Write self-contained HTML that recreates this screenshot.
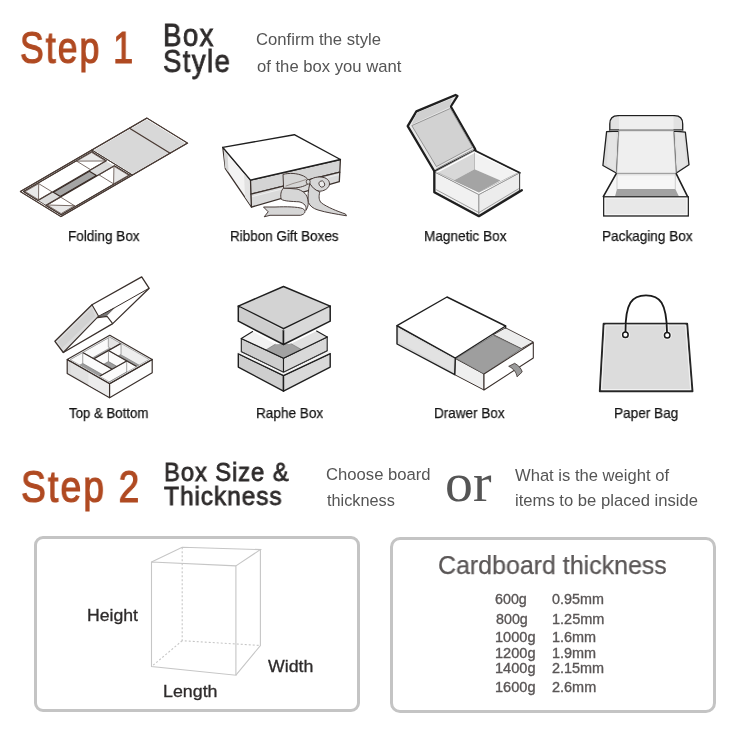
<!DOCTYPE html>
<html><head><meta charset="utf-8"><style>
html,body{margin:0;padding:0;background:#fff;}
body{width:750px;height:730px;position:relative;overflow:hidden;font-family:"Liberation Sans", sans-serif;}
.t{position:absolute;white-space:nowrap;line-height:1;transform-origin:0 0;will-change:transform;}
.box{position:absolute;border:3px solid #c4c4c4;box-sizing:border-box;}
svg{position:absolute;left:0;top:0;}
</style></head><body>
<div class="box" style="left:34px;top:536px;width:326px;height:176px;border-radius:9px;"></div>
<div class="box" style="left:390px;top:537px;width:326px;height:176px;border-radius:10px;"></div>
<svg width="750" height="730" viewBox="0 0 750 730">
<polygon points="20.40,191.60 147.00,118.10 187.60,143.10 61.00,216.60" fill="#fff" stroke="#4a3c36" stroke-width="1.1" stroke-linejoin="round" />
<polygon points="93.83,150.18 146.75,119.46 185.32,143.21 132.40,173.93" fill="#d8d8d8" stroke="none" stroke-width="1" stroke-linejoin="round" />
<polyline points="91.93,150.07 132.53,175.07" fill="none" stroke="#3a302c" stroke-width="1" stroke-linejoin="round" stroke-linecap="round" />
<polyline points="129.53,128.24 170.13,153.24" fill="none" stroke="#4a3a33" stroke-width="1.3" stroke-linejoin="round" stroke-linecap="round" />
<polygon points="38.77,199.88 105.86,160.92 113.98,165.92 46.89,204.88" fill="#dcdcdc" stroke="none" stroke-width="1" stroke-linejoin="round" />
<polygon points="53.30,192.17 89.38,171.22 96.41,175.55 60.32,196.49" fill="#a5a5a5" stroke="#3a2d28" stroke-width="1.2" stroke-linejoin="round" />
<polygon points="23.51,191.54 91.87,151.85 106.32,160.75 37.96,200.44" fill="#fff" stroke="#3a2d28" stroke-width="1.2" stroke-linejoin="round" />
<polygon points="46.00,205.39 114.36,165.70 129.55,175.05 61.18,214.74" fill="#fff" stroke="#3a2d28" stroke-width="1.2" stroke-linejoin="round" />
<polygon points="23.51,191.54 93.39,150.97 131.07,174.17 61.18,214.74" fill="none" stroke="#4a3c36" stroke-width="0.9" stroke-linejoin="round" />
<polygon points="25.16,191.50 38.71,183.64 38.56,199.75" fill="#e8e8e8" stroke="none" stroke-width="1" stroke-linejoin="round" />
<polygon points="25.16,191.50 38.71,183.64 52.11,191.89 38.56,199.75" fill="none" stroke="#5a4a44" stroke-width="0.8" stroke-linejoin="round" />
<polyline points="38.71,183.64 38.56,199.75" fill="none" stroke="#5a4a44" stroke-width="0.8" stroke-linejoin="round" stroke-linecap="round" />
<polygon points="76.66,161.12 91.60,152.45 105.49,161.00" fill="#e8e8e8" stroke="none" stroke-width="1" stroke-linejoin="round" />
<polygon points="76.66,161.12 91.60,152.45 105.49,161.00 90.55,169.67" fill="none" stroke="#5a4a44" stroke-width="0.8" stroke-linejoin="round" />
<polyline points="76.66,161.12 105.49,161.00" fill="none" stroke="#5a4a44" stroke-width="0.8" stroke-linejoin="round" stroke-linecap="round" />
<polygon points="47.09,205.00 74.64,205.77 61.10,213.63" fill="#e8e8e8" stroke="none" stroke-width="1" stroke-linejoin="round" />
<polygon points="47.09,205.00 60.64,197.14 74.64,205.77 61.10,213.63" fill="none" stroke="#5a4a44" stroke-width="0.8" stroke-linejoin="round" />
<polyline points="47.09,205.00 74.64,205.77" fill="none" stroke="#5a4a44" stroke-width="0.8" stroke-linejoin="round" stroke-linecap="round" />
<polygon points="113.93,166.20 128.55,175.20 113.61,183.87" fill="#e8e8e8" stroke="none" stroke-width="1" stroke-linejoin="round" />
<polygon points="98.99,174.87 113.93,166.20 128.55,175.20 113.61,183.87" fill="none" stroke="#5a4a44" stroke-width="0.8" stroke-linejoin="round" />
<polyline points="113.93,166.20 113.61,183.87" fill="none" stroke="#5a4a44" stroke-width="0.8" stroke-linejoin="round" stroke-linecap="round" />
<polygon points="20.40,191.60 147.00,118.10 187.60,143.10 61.00,216.60" fill="none" stroke="#4a3c36" stroke-width="1.1" stroke-linejoin="round" />
<polygon points="222.80,147.40 250.50,180.10 251.60,207.10 225.40,168.60" fill="#f3f3f3" stroke="#3a302c" stroke-width="1.3" stroke-linejoin="round" />
<polygon points="223.60,149.50 227.60,154.20 228.60,172.60 225.20,167.80" fill="#d6d6d6" stroke="none" stroke-width="1" stroke-linejoin="round" />
<polygon points="244.00,173.00 250.00,180.50 250.80,205.50 245.00,197.00" fill="#e2e2e2" stroke="none" stroke-width="1" stroke-linejoin="round" />
<polygon points="250.50,180.10 340.40,159.50 339.80,172.10 251.00,194.10" fill="#d4d4d4" stroke="#3a302c" stroke-width="1.3" stroke-linejoin="round" />
<polygon points="251.00,194.10 339.80,172.10 339.30,181.70 251.40,207.10" fill="#dadada" stroke="#3a302c" stroke-width="1.3" stroke-linejoin="round" />
<polyline points="252.50,196.50 338.50,174.60" fill="none" stroke="#f2f2f2" stroke-width="0.9" stroke-linejoin="round" stroke-linecap="round" />
<polygon points="222.80,147.40 294.30,134.70 340.40,159.50 250.50,180.10" fill="#fff" stroke="#1f1f1f" stroke-width="1.4" stroke-linejoin="round" />
<path d="M263.5,207 L275,207 C287,206.5 297,206.8 302.5,208.5 C306.5,210.5 305.5,214 300.5,215.3 L270,215.3 L264.2,216.8 L268.2,211.8 Z" fill="#d6d6d6" stroke="#3f332f" stroke-width="0.95" stroke-linejoin="round"/>
<path d="M283.6,188 C280.8,190.5 280.2,195.5 281.2,199.2 C284,201.3 292,201.4 299,201.8 C304.5,203 307,206.5 305.8,210.5 C308.5,207 308.8,202 307.5,198 C306,193 302,190.5 297,189 Z" fill="#d6d6d6" stroke="#3f332f" stroke-width="0.95" stroke-linejoin="round"/>
<path d="M283,174.4 C289,172.8 297,173 303.5,176 C306.5,177.5 309,180 309.5,182.5 C306,186 300,187.8 293,188 L283.6,188.2 Z" fill="#d6d6d6" stroke="#3f332f" stroke-width="0.95" stroke-linejoin="round"/>
<polyline points="286.00,186.00 293.00,183.50 300.00,181.50 306.00,179.50" fill="none" stroke="#6a5c56" stroke-width="0.6" stroke-linejoin="round" stroke-linecap="round" />
<path d="M309.8,183.5 C308.2,190 307.6,197 308.4,202.4 C310,206 313,208.5 318,210 C326,212.5 336,214 346.5,215.8 L345.5,214 C337,211.2 327,207 321.5,203 C318.8,200.5 318.6,196.5 319.8,192 C316,190 312.5,187 309.8,183.5 Z" fill="#d6d6d6" stroke="#3f332f" stroke-width="0.95" stroke-linejoin="round"/>
<path d="M308.5,181 C312.5,177.5 318,176.3 323,177.3 C328,178.3 330.2,182 329.3,185.2 C328,189 323.5,191.2 319.6,191.2 C315.5,190.8 312.5,187.5 310.5,184.5 Z" fill="#d6d6d6" stroke="#3f332f" stroke-width="0.95" stroke-linejoin="round"/>
<ellipse cx="321.8" cy="184" rx="2.8" ry="3.2" transform="rotate(-30 321.8 184)" fill="#ebebeb" stroke="#3f332f" stroke-width="0.8"/>
<ellipse cx="308.2" cy="181.8" rx="2" ry="2.4" fill="#d6d6d6" stroke="#3f332f" stroke-width="0.8"/>
<polygon points="455.50,95.00 457.50,96.00 450.80,106.50 474.80,148.50 475.50,150.50 434.50,171.50 407.70,126.20 416.40,111.40" fill="#e8e8e8" stroke="#1f1f1f" stroke-width="2.3" stroke-linejoin="round" />
<polygon points="416.80,112.80 452.00,98.50 449.80,107.00 411.80,124.60" fill="#d0d0d0" stroke="none" stroke-width="1" stroke-linejoin="round" />
<polygon points="411.80,125.60 450.40,108.40 472.60,147.20 436.40,166.60" fill="#d2d2d2" stroke="#777" stroke-width="0.7" stroke-linejoin="round" />
<polyline points="436.60,168.80 473.40,149.40" fill="none" stroke="#777" stroke-width="0.7" stroke-linejoin="round" stroke-linecap="round" />
<polygon points="434.70,172.00 478.90,194.50 478.90,215.30 434.70,191.90" fill="#f1f1f1" stroke="#888" stroke-width="0.8" stroke-linejoin="round" />
<polygon points="478.90,194.50 519.60,172.80 519.60,190.10 478.90,215.30" fill="#ececec" stroke="#888" stroke-width="0.8" stroke-linejoin="round" />
<polygon points="434.70,172.00 474.50,150.80 519.60,172.80 478.90,194.50" fill="#fff" stroke="#888" stroke-width="0.8" stroke-linejoin="round" />
<polygon points="437.80,172.60 474.50,153.00 474.50,169.30 453.70,180.60" fill="#d8d8d8" stroke="none" stroke-width="1" stroke-linejoin="round" />
<polygon points="474.50,153.00 516.80,173.40 500.50,180.60 474.50,169.30" fill="#f2f2f2" stroke="none" stroke-width="1" stroke-linejoin="round" />
<polygon points="453.70,180.60 474.50,169.30 500.50,180.60 478.90,192.20" fill="#a4a4a4" stroke="none" stroke-width="1" stroke-linejoin="round" />
<polyline points="474.50,153.00 474.50,169.30" fill="none" stroke="#999" stroke-width="0.6" stroke-linejoin="round" stroke-linecap="round" />
<polyline points="437.80,172.60 478.90,192.20 516.80,173.40" fill="none" stroke="#999" stroke-width="0.6" stroke-linejoin="round" stroke-linecap="round" />
<polyline points="474.50,150.30 519.80,172.80" fill="none" stroke="#1f1f1f" stroke-width="1.8" stroke-linejoin="round" stroke-linecap="round" />
<polyline points="519.60,172.80 519.60,190.50" fill="none" stroke="#444" stroke-width="1.0" stroke-linejoin="round" stroke-linecap="round" />
<polyline points="436.50,189.80 478.90,212.60 518.50,188.80" fill="none" stroke="#8a8a8a" stroke-width="0.8" stroke-linejoin="round" stroke-linecap="round" />
<polyline points="434.30,171.50 434.30,192.20 478.90,216.20 521.80,190.20" fill="none" stroke="#1f1f1f" stroke-width="2.3" stroke-linejoin="round" stroke-linecap="round" />
<path d="M609.8,130 L609.8,124 C609.8,118.5 612.5,115.7 618,115.7 L674.5,115.7 C680,115.7 682.7,118.5 682.7,124 L682.7,130 Z" fill="#e2e2e2" stroke="#1f1f1f" stroke-width="1.3"/>
<rect x="619" y="116.6" width="54.5" height="13" fill="#efefef"/>
<polygon points="606.60,131.60 618.90,131.00 616.70,173.30 602.90,165.50" fill="#dcdcdc" stroke="#1f1f1f" stroke-width="1.3" stroke-linejoin="round" />
<polygon points="685.40,132.20 673.50,131.00 676.00,173.30 689.00,164.80" fill="#dcdcdc" stroke="#1f1f1f" stroke-width="1.3" stroke-linejoin="round" />
<polygon points="608.50,133.00 616.50,132.50 615.30,170.50 607.00,165.00" fill="#e4e4e4" stroke="none" stroke-width="1" stroke-linejoin="round" />
<polygon points="683.50,133.00 675.80,132.50 677.20,170.50 686.50,165.00" fill="#e4e4e4" stroke="none" stroke-width="1" stroke-linejoin="round" />
<polygon points="618.90,130.80 673.50,130.80 676.00,173.50 616.70,173.50" fill="#efefef" stroke="#a8a8a8" stroke-width="0.8" stroke-linejoin="round" />
<polyline points="610.50,130.30 682.00,130.30" fill="none" stroke="#999" stroke-width="1.0" stroke-linejoin="round" stroke-linecap="round" />
<polygon points="603.30,196.60 616.10,174.30 676.30,174.30 687.60,196.60" fill="#f6f6f6" stroke="none" stroke-width="1" stroke-linejoin="round" />
<polygon points="617.00,189.10 675.30,189.10 679.00,196.60 615.00,196.60" fill="#a2a2a2" stroke="none" stroke-width="1" stroke-linejoin="round" />
<polyline points="617.00,174.50 617.00,189.10" fill="none" stroke="#bbb" stroke-width="0.7" stroke-linejoin="round" stroke-linecap="round" />
<polyline points="675.30,174.50 675.30,189.10" fill="none" stroke="#bbb" stroke-width="0.7" stroke-linejoin="round" stroke-linecap="round" />
<polyline points="616.10,173.30 676.30,173.30" fill="none" stroke="#999" stroke-width="0.9" stroke-linejoin="round" stroke-linecap="round" />
<polyline points="616.10,174.80 676.30,174.80" fill="none" stroke="#ccc" stroke-width="0.7" stroke-linejoin="round" stroke-linecap="round" />
<polyline points="603.30,196.60 616.10,173.80" fill="none" stroke="#1f1f1f" stroke-width="1.6" stroke-linejoin="round" stroke-linecap="round" />
<polyline points="687.60,196.60 676.30,173.80" fill="none" stroke="#1f1f1f" stroke-width="1.6" stroke-linejoin="round" stroke-linecap="round" />
<rect x="603.7" y="196.8" width="84.6" height="19.2" fill="#e8e8e8" stroke="#1f1f1f" stroke-width="1.3"/>
<rect x="605.2" y="198.3" width="81.6" height="16.2" fill="none" stroke="#f6f6f6" stroke-width="1"/>
<polygon points="54.90,341.30 92.00,304.70 141.70,276.90 149.20,288.30 112.70,323.60 63.30,352.50" fill="#fff" stroke="none" stroke-width="1" stroke-linejoin="round" />
<polygon points="54.90,341.30 92.00,304.70 98.60,316.20 63.30,352.50" fill="#dcdcdc" stroke="none" stroke-width="1" stroke-linejoin="round" />
<polygon points="58.00,341.50 92.00,308.00 95.00,316.00 62.00,348.00" fill="#d2d2d2" stroke="none" stroke-width="1" stroke-linejoin="round" />
<polygon points="97.50,317.60 114.50,307.80 107.10,315.20" fill="#7a7a7a" stroke="#3a302c" stroke-width="0.5" stroke-linejoin="round" />
<polyline points="98.60,316.20 114.50,307.80 148.40,288.60" fill="none" stroke="#3a302c" stroke-width="1.0" stroke-linejoin="round" stroke-linecap="round" />
<polyline points="92.00,304.70 98.60,316.20 63.30,352.50" fill="none" stroke="#3a302c" stroke-width="1.1" stroke-linejoin="round" stroke-linecap="round" />
<polyline points="97.50,317.60 107.10,316.40 112.70,323.60" fill="none" stroke="#3a302c" stroke-width="1.1" stroke-linejoin="round" stroke-linecap="round" />
<polygon points="54.90,341.30 92.00,304.70 141.70,276.90 149.20,288.30 112.70,323.60 63.30,352.50" fill="none" stroke="#3a302c" stroke-width="1.3" stroke-linejoin="round" />
<polygon points="67.20,370.60 109.80,346.30 152.20,370.40 109.60,394.70" fill="#9c9c9c" stroke="none" stroke-width="1" stroke-linejoin="round" />
<polygon points="68.68,360.44 111.28,336.14 111.28,347.14 68.68,371.44" fill="#fafafa" stroke="#777" stroke-width="0.6" stroke-linejoin="round" />
<polygon points="108.31,336.15 150.71,360.25 150.71,371.25 108.31,347.15" fill="#e4e4e4" stroke="#777" stroke-width="0.6" stroke-linejoin="round" />
<polygon points="120.39,343.02 150.71,360.25 150.71,371.25 120.39,354.02" fill="#eeeeee" stroke="none" stroke-width="1" stroke-linejoin="round" />
<polygon points="93.98,358.81 121.03,343.38 121.03,354.38 93.98,369.81" fill="#fbfbfb" stroke="#666" stroke-width="0.6" stroke-linejoin="round" />
<polyline points="93.98,358.81 121.03,343.38" fill="none" stroke="#3a302c" stroke-width="1.2" stroke-linejoin="round" stroke-linecap="round" />
<polygon points="108.46,350.55 136.66,366.58 136.66,377.58 108.46,361.55" fill="#fbfbfb" stroke="#666" stroke-width="0.6" stroke-linejoin="round" />
<polyline points="108.46,350.55 136.66,366.58" fill="none" stroke="#3a302c" stroke-width="1.2" stroke-linejoin="round" stroke-linecap="round" />
<polygon points="82.74,352.42 112.21,369.17 112.21,380.17 82.74,363.42" fill="#fbfbfb" stroke="#666" stroke-width="0.6" stroke-linejoin="round" />
<polyline points="82.74,352.42 112.21,369.17" fill="none" stroke="#3a302c" stroke-width="1.2" stroke-linejoin="round" stroke-linecap="round" />
<polygon points="99.64,376.34 126.69,360.91 126.69,371.91 99.64,387.34" fill="#fbfbfb" stroke="#666" stroke-width="0.6" stroke-linejoin="round" />
<polyline points="99.64,376.34 126.69,360.91" fill="none" stroke="#3a302c" stroke-width="1.2" stroke-linejoin="round" stroke-linecap="round" />
<path d="M 67.20,359.60 109.80,335.30 152.20,359.40 109.60,383.70Z M 70.17,359.59 109.61,382.01 149.22,359.41 109.79,336.99Z" fill="#fff" fill-rule="evenodd" stroke="none"/>
<polyline points="109.61,382.01 70.17,359.59 109.79,336.99 149.22,359.41 109.61,382.01" fill="none" stroke="#888" stroke-width="0.6" stroke-linejoin="round" stroke-linecap="round" />
<polygon points="67.20,359.60 109.60,383.70 109.60,397.70 67.20,373.60" fill="#dcdcdc" stroke="#3a302c" stroke-width="1.2" stroke-linejoin="round" />
<polygon points="70.60,362.06 110.45,384.71 110.45,396.21 70.60,373.56" fill="#e2e2e2" stroke="none" stroke-width="1" stroke-linejoin="round" />
<polygon points="88.40,372.65 108.75,384.22 108.75,396.22 88.40,384.65" fill="#ececec" stroke="none" stroke-width="1" stroke-linejoin="round" />
<polygon points="109.60,383.70 152.20,359.40 152.20,372.70 109.60,397.70" fill="#fdfdfd" stroke="#3a302c" stroke-width="1.2" stroke-linejoin="round" />
<polygon points="67.20,359.60 109.80,335.30 152.20,359.40 109.60,383.70" fill="none" stroke="#3a302c" stroke-width="1.2" stroke-linejoin="round" />
<polygon points="238.30,353.60 283.50,375.60 283.50,391.20 238.30,367.10" fill="#cecece" stroke="#1f1f1f" stroke-width="1.4" stroke-linejoin="round" />
<polygon points="283.50,375.60 330.20,353.60 330.20,367.10 283.50,391.20" fill="#d9d9d9" stroke="#1f1f1f" stroke-width="1.4" stroke-linejoin="round" />
<polygon points="241.30,338.50 283.50,358.30 283.50,372.30 241.30,351.80" fill="#cecece" stroke="#1f1f1f" stroke-width="1.1" stroke-linejoin="round" />
<polygon points="283.50,358.30 327.20,337.00 327.20,350.80 283.50,372.30" fill="#d9d9d9" stroke="#1f1f1f" stroke-width="1.1" stroke-linejoin="round" />
<polygon points="241.30,338.50 252.60,331.50 275.20,344.30 266.30,349.70" fill="#f2f2f2" stroke="none" stroke-width="1" stroke-linejoin="round" />
<polygon points="291.00,343.70 316.60,331.00 327.20,337.00 301.70,349.70" fill="#e0e0e0" stroke="none" stroke-width="1" stroke-linejoin="round" />
<polygon points="266.30,349.70 275.20,344.30 291.00,343.70 301.70,349.70 283.50,358.10" fill="#a2a2a2" stroke="none" stroke-width="1" stroke-linejoin="round" />
<polyline points="266.30,349.70 275.20,344.30" fill="none" stroke="#666" stroke-width="0.6" stroke-linejoin="round" stroke-linecap="round" />
<polyline points="291.00,343.70 301.70,349.70" fill="none" stroke="#666" stroke-width="0.6" stroke-linejoin="round" stroke-linecap="round" />
<polyline points="241.30,338.50 252.60,331.50" fill="none" stroke="#1f1f1f" stroke-width="1.1" stroke-linejoin="round" stroke-linecap="round" />
<polyline points="316.60,331.00 327.20,337.00" fill="none" stroke="#1f1f1f" stroke-width="1.1" stroke-linejoin="round" stroke-linecap="round" />
<polyline points="241.30,338.50 283.50,358.30 327.20,337.00" fill="none" stroke="#1f1f1f" stroke-width="1.1" stroke-linejoin="round" stroke-linecap="round" />
<polyline points="238.30,352.50 283.50,374.00 330.20,352.20" fill="none" stroke="#f4f4f4" stroke-width="2.2" stroke-linejoin="round" stroke-linecap="round" />
<polyline points="238.30,353.70 283.50,375.60 330.20,353.60" fill="none" stroke="#1f1f1f" stroke-width="1.1" stroke-linejoin="round" stroke-linecap="round" />
<polyline points="241.30,351.60 283.50,372.40 327.20,350.90" fill="none" stroke="#444" stroke-width="0.8" stroke-linejoin="round" stroke-linecap="round" />
<polygon points="238.30,306.10 283.50,328.70 283.50,344.50 238.30,321.20" fill="#cecece" stroke="#1f1f1f" stroke-width="1.5" stroke-linejoin="round" />
<polygon points="283.50,328.70 330.20,306.10 330.20,321.20 283.50,344.50" fill="#d9d9d9" stroke="#1f1f1f" stroke-width="1.5" stroke-linejoin="round" />
<polygon points="238.30,306.10 283.50,286.50 330.20,306.10 283.50,328.70" fill="#d3d3d3" stroke="#1f1f1f" stroke-width="1.5" stroke-linejoin="round" />
<polyline points="240.00,307.80 283.50,329.90 328.50,307.80" fill="none" stroke="#eeeeee" stroke-width="0.7" stroke-linejoin="round" stroke-linecap="round" />
<polygon points="455.30,358.50 484.00,374.00 484.00,390.00 454.70,374.70" fill="#efefef" stroke="#3a302c" stroke-width="1" stroke-linejoin="round" />
<polygon points="493.30,334.70 505.50,327.80 533.30,342.00 521.30,348.70" fill="#ececec" stroke="#3a302c" stroke-width="0.9" stroke-linejoin="round" />
<polygon points="456.00,358.30 493.30,335.30 521.30,348.70 484.00,374.00" fill="#9e9e9e" stroke="#555" stroke-width="0.6" stroke-linejoin="round" />
<polygon points="484.00,374.00 533.30,342.50 533.30,358.00 484.00,390.00" fill="#fff" stroke="#3a302c" stroke-width="1.1" stroke-linejoin="round" />
<path d="M508.7,366.3 L514.7,363.3 C518.5,365.5 521.5,368.5 522.2,372 L517,376.8 C516.5,372.5 513.5,368.5 508.7,366.3 Z" fill="#9a9a9a" stroke="#3a302c" stroke-width="0.8"/>
<polygon points="397.00,325.60 455.30,358.00 454.70,374.70 397.00,344.00" fill="#d8d8d8" stroke="#1f1f1f" stroke-width="1.4" stroke-linejoin="round" />
<polygon points="399.00,329.00 453.50,359.00 453.20,372.00 399.00,342.00" fill="#e2e2e2" stroke="none" stroke-width="1" stroke-linejoin="round" />
<polygon points="397.00,325.60 447.00,297.00 505.60,326.00 455.30,358.00" fill="#fff" stroke="#1f1f1f" stroke-width="1.4" stroke-linejoin="round" />
<polyline points="505.60,326.00 505.60,328.00" fill="none" stroke="#1f1f1f" stroke-width="1.4" stroke-linejoin="round" stroke-linecap="round" />
<polygon points="603.60,323.80 687.20,323.80 692.50,391.20 599.80,391.20" fill="#dcdcdc" stroke="#262626" stroke-width="1.9" stroke-linejoin="round" />
<polygon points="605.30,325.00 685.60,325.00 690.60,389.60 601.60,389.60" fill="none" stroke="#f4f4f4" stroke-width="1" stroke-linejoin="round" />
<circle cx="625.4" cy="334.7" r="4.6" fill="#f2f2f2"/>
<circle cx="667.2" cy="335.2" r="4.6" fill="#f2f2f2"/>
<path d="M625.5,332 L625.5,324.5 M667,332 L667,324.5" stroke="#f2f2f2" stroke-width="3.6"/>
<path d="M625.5,332 C625.2,303 632,295.4 646,295.4 C660,295.4 666.6,303 667,332" fill="none" stroke="#1a1a1a" stroke-width="1.8"/>
<circle cx="625.4" cy="334.7" r="2.75" fill="#fff" stroke="#1a1a1a" stroke-width="1.5"/>
<circle cx="667.2" cy="335.2" r="2.75" fill="#fff" stroke="#1a1a1a" stroke-width="1.5"/>
<polyline points="182.20,547.30 182.20,640.70 260.40,645.50" stroke="#c6c6c6" stroke-width="1.1" fill="none" stroke-dasharray="2,2"/>
<line x1="182.2" y1="640.7" x2="151.5" y2="666.6" stroke="#c6c6c6" stroke-width="1.1" fill="none" stroke-dasharray="2,2"/>
<polygon points="151.50,562.00 235.90,565.90 235.90,675.20 151.50,666.60" stroke="#c6c6c6" stroke-width="1.1" fill="none"/>
<polyline points="151.50,562.00 182.20,547.30 260.40,549.60 235.90,565.90" stroke="#c6c6c6" stroke-width="1.1" fill="none"/>
<polyline points="260.40,549.60 260.40,645.50 235.90,675.20" stroke="#c6c6c6" stroke-width="1.1" fill="none"/>
</svg>
<div class="t" style="left:20.21px;top:25.00px;font-family:'Liberation Sans', sans-serif;font-size:45px;color:#b04a22;transform:scaleX(0.7929);-webkit-text-stroke:1.2px #b04a22;letter-spacing:2.5px;">Step 1</div>
<div class="t" style="left:162.78px;top:19.70px;font-family:'Liberation Sans', sans-serif;font-size:30.5px;color:#2e2b2b;transform:scaleX(0.9093);-webkit-text-stroke:0.8px #2e2b2b;letter-spacing:1.5px;">Box</div>
<div class="t" style="left:162.79px;top:46.30px;font-family:'Liberation Sans', sans-serif;font-size:30.5px;color:#2e2b2b;transform:scaleX(0.9069);-webkit-text-stroke:0.8px #2e2b2b;letter-spacing:1.5px;">Style</div>
<div class="t" style="left:256.00px;top:32.30px;font-family:'Liberation Sans', sans-serif;font-size:16.6px;color:#555;transform:scaleX(1.0041);">Confirm the style</div>
<div class="t" style="left:257.00px;top:59.30px;font-family:'Liberation Sans', sans-serif;font-size:16.6px;color:#555;transform:scaleX(1.0028);">of the box you want</div>
<div class="t" style="left:68.15px;top:229.00px;font-family:'Liberation Sans', sans-serif;font-size:14.3px;color:#151515;transform:scaleX(0.9486);-webkit-text-stroke:0.25px #151515;">Folding Box</div>
<div class="t" style="left:230.36px;top:229.00px;font-family:'Liberation Sans', sans-serif;font-size:14.3px;color:#151515;transform:scaleX(0.9421);-webkit-text-stroke:0.25px #151515;">Ribbon Gift Boxes</div>
<div class="t" style="left:423.75px;top:229.00px;font-family:'Liberation Sans', sans-serif;font-size:14.3px;color:#151515;transform:scaleX(0.9523);-webkit-text-stroke:0.25px #151515;">Magnetic Box</div>
<div class="t" style="left:602.35px;top:229.00px;font-family:'Liberation Sans', sans-serif;font-size:14.3px;color:#151515;transform:scaleX(0.9500);-webkit-text-stroke:0.25px #151515;">Packaging Box</div>
<div class="t" style="left:69.30px;top:405.50px;font-family:'Liberation Sans', sans-serif;font-size:14.3px;color:#151515;transform:scaleX(0.9244);-webkit-text-stroke:0.25px #151515;">Top &amp; Bottom</div>
<div class="t" style="left:255.75px;top:405.50px;font-family:'Liberation Sans', sans-serif;font-size:14.3px;color:#151515;transform:scaleX(0.9500);-webkit-text-stroke:0.25px #151515;">Raphe Box</div>
<div class="t" style="left:434.05px;top:406.20px;font-family:'Liberation Sans', sans-serif;font-size:14.3px;color:#151515;transform:scaleX(0.9459);-webkit-text-stroke:0.25px #151515;">Drawer Box</div>
<div class="t" style="left:613.85px;top:405.50px;font-family:'Liberation Sans', sans-serif;font-size:14.3px;color:#151515;transform:scaleX(0.9515);-webkit-text-stroke:0.25px #151515;">Paper Bag</div>
<div class="t" style="left:20.57px;top:464.40px;font-family:'Liberation Sans', sans-serif;font-size:45px;color:#b04a22;transform:scaleX(0.8300);-webkit-text-stroke:1.2px #b04a22;letter-spacing:2.5px;">Step 2</div>
<div class="t" style="left:163.70px;top:459.00px;font-family:'Liberation Sans', sans-serif;font-size:26.5px;color:#2e2b2b;transform:scaleX(0.8986);-webkit-text-stroke:0.8px #2e2b2b;letter-spacing:1px;">Box Size &amp;</div>
<div class="t" style="left:164.00px;top:483.00px;font-family:'Liberation Sans', sans-serif;font-size:26.5px;color:#2e2b2b;transform:scaleX(0.9244);-webkit-text-stroke:0.8px #2e2b2b;letter-spacing:1px;">Thickness</div>
<div class="t" style="left:325.68px;top:466.40px;font-family:'Liberation Sans', sans-serif;font-size:16.3px;color:#555;transform:scaleX(1.0228);">Choose board</div>
<div class="t" style="left:326.70px;top:491.60px;font-family:'Liberation Sans', sans-serif;font-size:16.3px;color:#555;transform:scaleX(0.9956);">thickness</div>
<div class="t" style="left:445.13px;top:455.80px;font-family:'Liberation Serif', serif;font-size:54px;color:#555;transform:scaleX(1.0326);">or</div>
<div class="t" style="left:515.10px;top:466.80px;font-family:'Liberation Sans', sans-serif;font-size:16.3px;color:#555;transform:scaleX(1.0192);">What is the weight of</div>
<div class="t" style="left:514.68px;top:491.90px;font-family:'Liberation Sans', sans-serif;font-size:16.3px;color:#555;transform:scaleX(1.0213);">items to be placed inside</div>
<div class="t" style="left:86.84px;top:608.30px;font-family:'Liberation Sans', sans-serif;font-size:16.6px;color:#2e2b2b;transform:scaleX(1.0638);-webkit-text-stroke:0.3px #2e2b2b;">Height</div>
<div class="t" style="left:268.40px;top:658.50px;font-family:'Liberation Sans', sans-serif;font-size:16.6px;color:#2e2b2b;transform:scaleX(1.0690);-webkit-text-stroke:0.3px #2e2b2b;">Width</div>
<div class="t" style="left:162.53px;top:684.00px;font-family:'Liberation Sans', sans-serif;font-size:16.6px;color:#2e2b2b;transform:scaleX(1.0735);-webkit-text-stroke:0.3px #2e2b2b;">Length</div>
<div class="t" style="left:438.02px;top:553.00px;font-family:'Liberation Sans', sans-serif;font-size:25.5px;color:#5a5656;transform:scaleX(0.9784);-webkit-text-stroke:0.25px #5a5656;">Cardboard thickness</div>
<div class="t" style="left:494.50px;top:592.10px;font-family:'Liberation Sans', sans-serif;font-size:14.3px;color:#5a5656;transform:scaleX(1.0000);-webkit-text-stroke:0.35px #5a5656;">600g</div>
<div class="t" style="left:551.60px;top:592.10px;font-family:'Liberation Sans', sans-serif;font-size:14.3px;color:#5a5656;transform:scaleX(1.0039);-webkit-text-stroke:0.35px #5a5656;">0.95mm</div>
<div class="t" style="left:496.00px;top:611.90px;font-family:'Liberation Sans', sans-serif;font-size:14.3px;color:#5a5656;transform:scaleX(1.0000);-webkit-text-stroke:0.35px #5a5656;">800g</div>
<div class="t" style="left:552.19px;top:611.90px;font-family:'Liberation Sans', sans-serif;font-size:14.3px;color:#5a5656;transform:scaleX(1.0140);-webkit-text-stroke:0.35px #5a5656;">1.25mm</div>
<div class="t" style="left:495.38px;top:629.50px;font-family:'Liberation Sans', sans-serif;font-size:14.3px;color:#5a5656;transform:scaleX(1.0184);-webkit-text-stroke:0.35px #5a5656;">1000g</div>
<div class="t" style="left:552.19px;top:629.50px;font-family:'Liberation Sans', sans-serif;font-size:14.3px;color:#5a5656;transform:scaleX(1.0095);-webkit-text-stroke:0.35px #5a5656;">1.6mm</div>
<div class="t" style="left:495.38px;top:645.80px;font-family:'Liberation Sans', sans-serif;font-size:14.3px;color:#5a5656;transform:scaleX(1.0184);-webkit-text-stroke:0.35px #5a5656;">1200g</div>
<div class="t" style="left:552.19px;top:645.80px;font-family:'Liberation Sans', sans-serif;font-size:14.3px;color:#5a5656;transform:scaleX(1.0095);-webkit-text-stroke:0.35px #5a5656;">1.9mm</div>
<div class="t" style="left:495.38px;top:661.20px;font-family:'Liberation Sans', sans-serif;font-size:14.3px;color:#5a5656;transform:scaleX(1.0184);-webkit-text-stroke:0.35px #5a5656;">1400g</div>
<div class="t" style="left:552.10px;top:661.20px;font-family:'Liberation Sans', sans-serif;font-size:14.3px;color:#5a5656;transform:scaleX(1.0098);-webkit-text-stroke:0.35px #5a5656;">2.15mm</div>
<div class="t" style="left:495.38px;top:679.60px;font-family:'Liberation Sans', sans-serif;font-size:14.3px;color:#5a5656;transform:scaleX(1.0184);-webkit-text-stroke:0.35px #5a5656;">1600g</div>
<div class="t" style="left:552.10px;top:679.60px;font-family:'Liberation Sans', sans-serif;font-size:14.3px;color:#5a5656;transform:scaleX(1.0116);-webkit-text-stroke:0.35px #5a5656;">2.6mm</div>
</body></html>
